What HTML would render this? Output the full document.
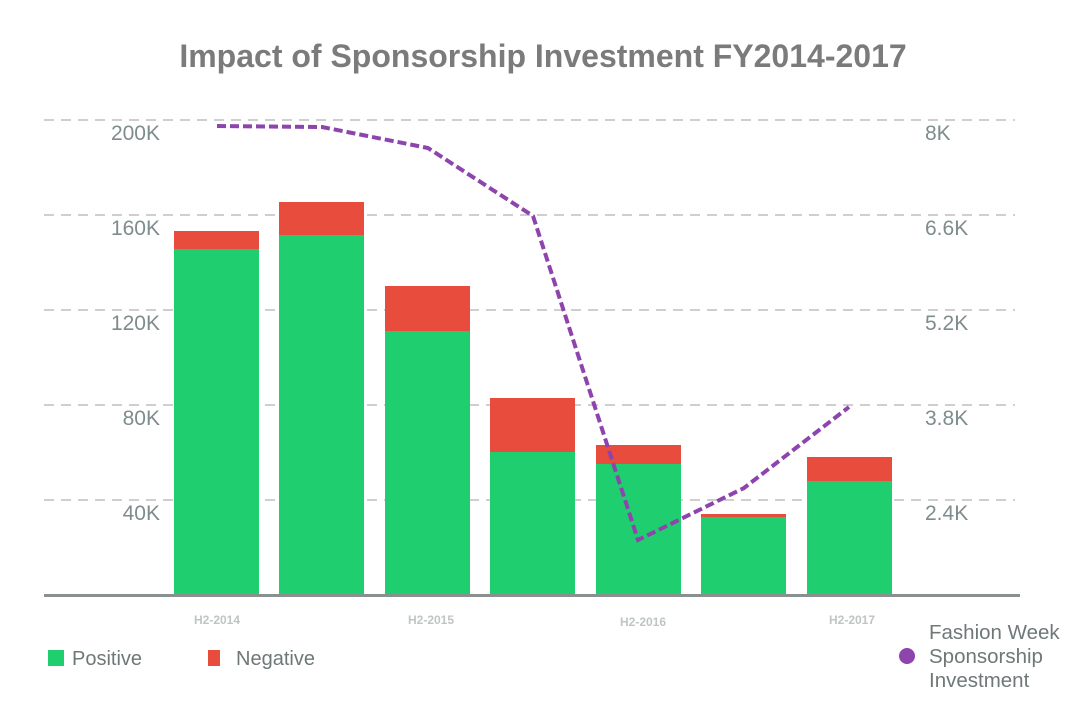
<!DOCTYPE html>
<html><head><style>body{margin:0;background:#fff}</style></head><body>
<svg width="1088" height="709" xmlns="http://www.w3.org/2000/svg" font-family="Liberation Sans, sans-serif">
<rect width="1088" height="709" fill="#fff"/>
<text x="543" y="67" text-anchor="middle" font-size="32" font-weight="bold" fill="#7b7b7b">Impact of Sponsorship Investment FY2014-2017</text>
<g stroke="#cfcfcf" stroke-width="2" stroke-dasharray="10 7">
<line x1="44" y1="120" x2="1015" y2="120"/><line x1="44" y1="215" x2="1015" y2="215"/><line x1="44" y1="310" x2="1015" y2="310"/><line x1="44" y1="405" x2="1015" y2="405"/><line x1="44" y1="500" x2="1015" y2="500"/>
</g>
<g font-size="21" fill="#7f8c8d" text-anchor="end">
<text x="160" y="140">200K</text><text x="160" y="235">160K</text><text x="160" y="330">120K</text><text x="160" y="425">80K</text><text x="160" y="520">40K</text>
</g>
<g font-size="21" fill="#7f8c8d">
<text x="925" y="140">8K</text><text x="925" y="235">6.6K</text><text x="925" y="330">5.2K</text><text x="925" y="425">3.8K</text><text x="925" y="520">2.4K</text>
</g>
<g fill="#e74c3c">
<rect x="174" y="231" width="85" height="20"/><rect x="279" y="202" width="85" height="35"/><rect x="385" y="286" width="85" height="47"/><rect x="490" y="398" width="85" height="56"/><rect x="596" y="445" width="85" height="21"/><rect x="701" y="514" width="85" height="5"/><rect x="807" y="457" width="85" height="26"/>
</g>
<g fill="#1fcf6f">
<rect x="174" y="249" width="85" height="346"/><rect x="279" y="235" width="85" height="360"/><rect x="385" y="331" width="85" height="264"/><rect x="490" y="452" width="85" height="143"/><rect x="596" y="464" width="85" height="131"/><rect x="701" y="517" width="85" height="78"/><rect x="807" y="481" width="85" height="114"/>
</g>
<line x1="44" y1="595.5" x2="1020" y2="595.5" stroke="#8a9090" stroke-width="3"/>
<g font-size="12" fill="#bfc4c4" text-anchor="middle" font-weight="bold">
<text x="217" y="624">H2-2014</text><text x="431" y="624">H2-2015</text><text x="643" y="626">H2-2016</text><text x="852" y="624">H2-2017</text>
</g>
<polyline points="217,126 322,127 428,148 533,216 638,540 744,488 849,407" fill="none" stroke="#8e44ad" stroke-width="4" stroke-dasharray="9 4"/>
<rect x="48" y="650" width="16" height="16" fill="#1fcf6f"/>
<text x="72" y="665" font-size="20" fill="#6f7878">Positive</text>
<rect x="208" y="650" width="12" height="16" fill="#e74c3c"/>
<text x="236" y="665" font-size="20" fill="#6f7878">Negative</text>
<circle cx="907" cy="656" r="8" fill="#8e44ad"/>
<g font-size="20.5" fill="#6f7878"><text x="929" y="639">Fashion Week</text><text x="929" y="663">Sponsorship</text><text x="929" y="687">Investment</text></g>
</svg>
</body></html>
